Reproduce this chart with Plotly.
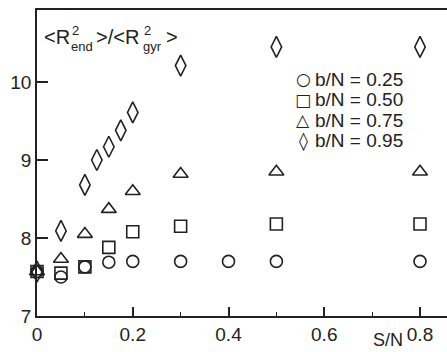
import plotly.graph_objects as go

# ---- data ----
x_025 = [0, 0.05, 0.1, 0.15, 0.2, 0.3, 0.4, 0.5, 0.8]
y_025 = [7.57, 7.5, 7.63, 7.69, 7.7, 7.7, 7.7, 7.7, 7.7]
x_050 = [0, 0.05, 0.1, 0.15, 0.2, 0.3, 0.5, 0.8]
y_050 = [7.57, 7.55, 7.63, 7.88, 8.08, 8.15, 8.18, 8.18]
x_075 = [0, 0.05, 0.1, 0.15, 0.2, 0.3, 0.5, 0.8]
y_075 = [7.57, 7.73, 8.05, 8.37, 8.6, 8.82, 8.85, 8.85]
x_095 = [0, 0.05, 0.1, 0.125, 0.15, 0.175, 0.2, 0.3, 0.5, 0.8]
y_095 = [7.57, 8.09, 8.68, 9.0, 9.17, 9.38, 9.61, 10.21, 10.45, 10.45]
series_names = ["b/N = 0.25", "b/N = 0.50", "b/N = 0.75", "b/N = 0.95"]
legend_glyphs = ["○", "□", "△", "◊"]
x_ticks = [0, 0.2, 0.4, 0.6, 0.8]
x_ticklabels = ["0", "0.2", "0.4", "0.6", "0.8"]
y_ticks = [7, 8, 9, 10]
y_ticklabels = ["7", "8", "9", "10"]

FONT = "Liberation Sans, Arial, Helvetica, sans-serif"
INK = "#222222"

# pixel geometry helpers (plot area: x 37..447, y 10..316)
PX0, PXU = 37, 478.75
PY0, PYU = 316, 78.0
XMAX = (447 - PX0) / PXU
YMAX = 7 + (PY0 - 10) / PYU


def dx(px):
    return (px - PX0) / PXU


def dy(py):
    return 7 + (PY0 - py) / PYU


fig = go.Figure()
symbols = ["circle-open", "square-open", "triangle-up-open", "diamond-tall-open"]
sizes = [12, 12, 13, 15]
data = [(x_025, y_025), (x_050, y_050), (x_075, y_075), (x_095, y_095)]
for (xs, ys), name, sym, sz in zip(data, series_names, symbols, sizes):
    fig.add_trace(go.Scatter(
        x=xs, y=ys, mode="markers", name=name, cliponaxis=False, showlegend=False,
        marker=dict(symbol=sym, size=sz, color=INK, line=dict(color=INK, width=1.6)),
    ))

annos = []
big = dict(family=FONT, size=20, color=INK)
small = dict(family=FONT, size=13, color=INK)
pieces = [
    ("&lt;R", 43, 37, "left", big),
    ("2", 71, 30, "left", small),
    ("end", 70, 46, "left", small),
    ("&gt;/&lt;R", 95, 37, "left", big),
    ("2", 143, 30, "left", small),
    ("gyr", 142, 46, "left", small),
    ("&gt;", 165, 37, "left", big),
]
for txt, px, py, anc, f in pieces:
    annos.append(dict(text=txt, x=dx(px), y=dy(py), xref="x", yref="y",
                      xanchor=anc, yanchor="middle", showarrow=False, font=f,
                      borderpad=0))

# legend drawn as text rows (symbol glyph + label)
glyph_sizes = [17, 17, 17, 18]
for i, (g, name, gs) in enumerate(zip(legend_glyphs, series_names, glyph_sizes)):
    ry = 79 + 20.5 * i
    annos.append(dict(text=g, x=dx(303), y=dy(ry), xref="x", yref="y",
                      xanchor="center", yanchor="middle", showarrow=False,
                      font=dict(family="DejaVu Sans", size=gs, color=INK), borderpad=0))
    annos.append(dict(text=name, x=dx(314), y=dy(ry), xref="x", yref="y",
                      xanchor="left", yanchor="middle", showarrow=False,
                      font=dict(family=FONT, size=19, color=INK), borderpad=0))

annos.append(dict(text="S/N", x=dx(388), y=(316 - 340) / 306, xref="x", yref="paper",
                  xanchor="center", yanchor="middle", showarrow=False,
                  font=dict(family=FONT, size=18, color=INK)))

fig.update_layout(
    width=447, height=352,
    margin=dict(l=37, r=0, t=10, b=36),
    paper_bgcolor="white", plot_bgcolor="white",
    font=dict(family=FONT, size=16, color=INK),
    showlegend=False,
    annotations=annos,
    xaxis=dict(range=[0, XMAX], showgrid=False, zeroline=False,
               showline=True, linecolor=INK, linewidth=1.5, mirror=True,
               ticks="inside", ticklen=9, tickwidth=1.5, tickcolor=INK,
               tickvals=x_ticks, ticktext=x_ticklabels,
               tickfont=dict(family=FONT, size=19, color=INK)),
    yaxis=dict(range=[7, YMAX], showgrid=False, zeroline=False,
               showline=True, linecolor=INK, linewidth=1.5, mirror=False,
               ticks="inside", ticklen=11, tickwidth=1.5, tickcolor=INK,
               tickvals=y_ticks, ticktext=y_ticklabels,
               tickfont=dict(family=FONT, size=19, color=INK)),
)
fig.update_xaxes(minor=dict(tickvals=[0.1, 0.3, 0.5, 0.7], ticks="inside", ticklen=4,
                            tickwidth=1.2, tickcolor=INK, showgrid=False))

fig.write_html("out.html")
